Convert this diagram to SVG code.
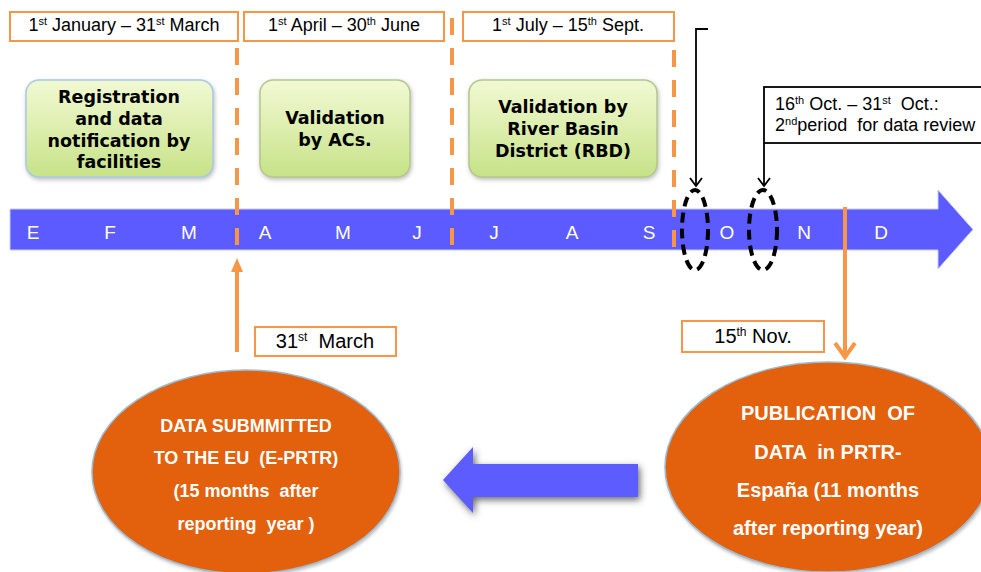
<svg xmlns="http://www.w3.org/2000/svg" width="981" height="572" viewBox="0 0 981 572">
<defs>
<linearGradient id="gg" x1="0" y1="0" x2="0" y2="1">
<stop offset="0" stop-color="#F1F9D3"/>
<stop offset="0.5" stop-color="#DDEEAE"/>
<stop offset="1" stop-color="#C6E287"/>
</linearGradient>
<filter id="sh" x="-10%" y="-10%" width="130%" height="130%">
<feDropShadow dx="1" dy="2" stdDeviation="2" flood-color="#777" flood-opacity="0.5"/>
</filter>
<filter id="sh2" x="-20%" y="-40%" width="140%" height="180%">
<feDropShadow dx="2" dy="3" stdDeviation="3.5" flood-color="#444" flood-opacity="0.8"/>
</filter>
<filter id="sh3" x="-10%" y="-10%" width="120%" height="120%">
<feDropShadow dx="1" dy="2" stdDeviation="1.5" flood-color="#888" flood-opacity="0.5"/>
</filter>
</defs>
<style>
.hdr{fill:#fff;stroke:#F79646;stroke-width:2}
.t{font-family:"Liberation Sans",Arial,sans-serif;fill:#000;white-space:pre}
.g{fill:url(#gg);filter:url(#sh)}
.gt{font-family:"DejaVu Sans",Verdana,sans-serif;font-weight:bold;font-size:17.5px;fill:#000;text-anchor:middle}
.mo{font-family:"Liberation Sans",Arial,sans-serif;font-size:19px;fill:#fff;text-anchor:middle}
.od{stroke:#F79646;stroke-width:4;stroke-dasharray:17 13;fill:none}
.os{stroke:#F79646;stroke-width:4;fill:none}
.bk{stroke:#000;stroke-width:1.8;fill:none}
.el{fill:none;stroke:#000;stroke-width:4;stroke-dasharray:10 6}
.oe{fill:#E36009;stroke:#9DBCD2;stroke-width:1.5;filter:url(#sh3)}
.et{font-family:"Liberation Sans",Arial,sans-serif;font-weight:bold;fill:#fff;text-anchor:middle;white-space:pre}
</style>

<g id="timeline">
<path d="M10,209 H938 V190 L973,229.5 L938,269 V250 H10 Z" fill="#5B5BFF" stroke="#C9CBF5" stroke-width="1"/>
<text class="mo" y="239"><tspan x="33">E</tspan><tspan x="110">F</tspan><tspan x="189">M</tspan><tspan x="265">A</tspan><tspan x="343">M</tspan><tspan x="417">J</tspan><tspan x="494">J</tspan><tspan x="572">A</tspan><tspan x="649">S</tspan><tspan x="727">O</tspan><tspan x="804">N</tspan><tspan x="881">D</tspan></text>
</g>

<g id="hdr1">
<rect class="hdr" x="10" y="12" width="228" height="29"/>
<text class="t" x="124" y="31" font-size="18" text-anchor="middle">1<tspan font-size="11" dy="-6">st</tspan><tspan dy="6"> January – 31</tspan><tspan font-size="11" dy="-6">st</tspan><tspan dy="6"> March</tspan></text>
</g>
<g id="hdr2">
<rect class="hdr" x="244" y="12" width="200" height="29"/>
<text class="t" x="344" y="31" font-size="18" text-anchor="middle">1<tspan font-size="11" dy="-6">st</tspan><tspan dy="6"> April – 30</tspan><tspan font-size="11" dy="-6">th</tspan><tspan dy="6"> June</tspan></text>
</g>
<g id="hdr3">
<rect class="hdr" x="463" y="12" width="211" height="29"/>
<text class="t" x="568" y="31" font-size="18" text-anchor="middle">1<tspan font-size="11" dy="-6">st</tspan><tspan dy="6"> July – 15</tspan><tspan font-size="11" dy="-6">th</tspan><tspan dy="6"> Sept.</tspan></text>
</g>

<g id="box1">
<rect class="g" x="26" y="80" width="187" height="97" rx="13" stroke="#A9C8E8" stroke-width="1.5"/>
<text class="gt"><tspan x="119" y="103">Registration</tspan><tspan x="119" y="125">and data</tspan><tspan x="119" y="147">notification by</tspan><tspan x="119" y="168">facilities</tspan></text>
</g>
<g id="box2">
<rect class="g" x="260" y="80" width="150" height="97" rx="13" stroke="#B4C88C" stroke-width="1.5"/>
<text class="gt"><tspan x="335" y="124">Validation</tspan><tspan x="335" y="146">by ACs.</tspan></text>
</g>
<g id="box3">
<rect class="g" x="469" y="80" width="188" height="97" rx="13" stroke="#B4C88C" stroke-width="1.5"/>
<text class="gt"><tspan x="563" y="113">Validation by</tspan><tspan x="563" y="135">River Basin</tspan><tspan x="563" y="157">District (RBD)</tspan></text>
</g>

<g id="review">
<rect x="764" y="87" width="230" height="56" fill="#fff" stroke="#000" stroke-width="1.8"/>
<text class="t" font-size="18"><tspan x="775" y="110">16</tspan><tspan font-size="11" dy="-6">th</tspan><tspan dy="6"> Oct. – 31</tspan><tspan font-size="11" dy="-6">st</tspan><tspan dy="6">  Oct.:</tspan><tspan x="775" y="131">2</tspan><tspan font-size="11" dy="-6">nd</tspan><tspan dy="6">period  for data review</tspan></text>
</g>

<g id="mar31">
<rect class="hdr" x="255" y="327" width="141" height="29"/>
<text class="t" x="325" y="348" font-size="20" text-anchor="middle">31<tspan font-size="12" dy="-7">st</tspan><tspan dy="7">  March</tspan></text>
</g>
<g id="nov15">
<rect class="hdr" x="682" y="321" width="142" height="31"/>
<text class="t" x="753" y="343" font-size="20" text-anchor="middle">15<tspan font-size="12" dy="-7">th</tspan><tspan dy="7"> Nov.</tspan></text>
</g>

<g id="eu">
<ellipse class="oe" cx="246" cy="472" rx="154" ry="102"/>
<text class="et" font-size="18"><tspan x="246" y="432">DATA SUBMMITTED</tspan><tspan x="246" y="464">TO THE EU  (E-PRTR)</tspan><tspan x="246" y="497">(15 months  after</tspan><tspan x="246" y="530">reporting  year )</tspan></text>
</g>
<g id="pub">
<ellipse class="oe" cx="828" cy="467" rx="163" ry="105"/>
<text class="et" font-size="20"><tspan x="828" y="420">PUBLICATION  OF</tspan><tspan x="828" y="459">DATA  in PRTR-</tspan><tspan x="828" y="497">España (11 months</tspan><tspan x="828" y="535">after reporting year)</tspan></text>
</g>

<g id="connectors">
<line class="od" x1="237" y1="48" x2="237" y2="250"/>
<line class="od" x1="452" y1="18" x2="452" y2="250"/>
<line class="od" x1="674" y1="50" x2="674" y2="249"/>
<line class="os" x1="237" y1="352" x2="237" y2="270"/>
<path d="M237,258 L231,272 H243 Z" fill="#F79646"/>
<line class="os" x1="845" y1="207" x2="845" y2="356"/>
<path class="os" d="M835,343 L845,357 L855,343"/>
<polyline class="bk" points="708,29 696,29 696,186"/>
<path class="bk" d="M690,178 L696,186 L702,178"/>
<line class="bk" x1="764" y1="143" x2="764" y2="186"/>
<path class="bk" d="M758,178 L764,186 L770,178"/>
<ellipse class="el" cx="695" cy="230" rx="13" ry="40"/>
<ellipse class="el" cx="763" cy="230" rx="14" ry="40"/>
<path d="M638,464 H473 V447 L443,480 L473,513 V497 H638 Z" fill="#5B5BFF" filter="url(#sh2)"/>
</g>
</svg>
